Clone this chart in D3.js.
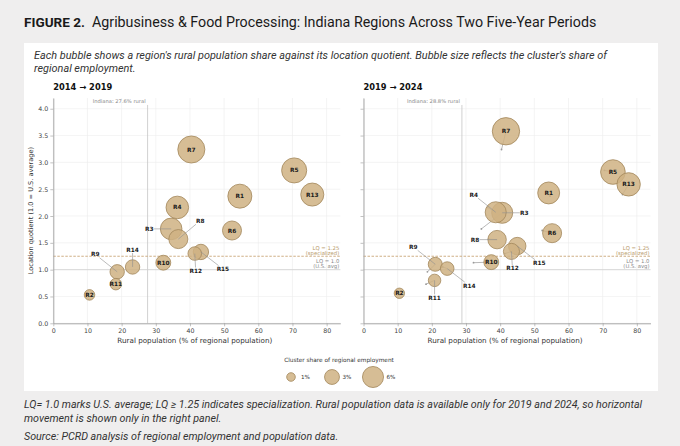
<!DOCTYPE html>
<html>
<head>
<meta charset="UTF-8">
<title>Figure 2</title>
<style>
  body { margin: 0; background: #efeeee; }
  svg { display: block; }
</style>
</head>
<body>
<script src="https://d3js.org/d3.v7.min.js"></script>
<script>
// regions R1..R15
const regions = ["R1","R2","R3","R4","R5","R6","R7","R8","R9","R10","R11","R12","R13","R14","R15"]

// 2014 -> 2019 panel (position at end of period)
const rural2019 = [54.6, 10.6, 34.5, 36.3, 70.5, 52.3, 40.4, 36.6, 18.7, 32.2, 18.3, 41.4, 75.8, 23.2, 43.2]
const lq2019    = [2.37, 0.53, 1.76, 2.16, 2.85, 1.73, 3.24, 1.57, 0.96, 1.13, 0.73, 1.30, 2.40, 1.05, 1.33]
const share2019 = [7.8, 1.5, 6.3, 6.9, 8.5, 4.9, 9.9, 4.9, 2.8, 3.0, 1.8, 2.5, 7.2, 2.8, 3.2]

// 2019 -> 2024 panel
const rural2024 = [54.2, 10.5, 40.6, 38.7, 73.0, 55.2, 41.7, 39.1, 21.0, 37.4, 20.8, 43.3, 77.6, 24.5, 45.0]
const lq2024    = [2.43, 0.56, 2.06, 2.07, 2.82, 1.68, 3.58, 1.56, 1.10, 1.14, 0.80, 1.34, 2.59, 1.02, 1.44]
const share2024 = [6.5, 1.45, 6.0, 6.0, 8.2, 4.9, 10.1, 4.6, 2.65, 3.0, 2.1, 3.5, 7.4, 2.5, 4.1]

const indianaRural = [27.6, 28.8]
const xTicks = [0, 10, 20, 30, 40, 50, 60, 70, 80]
const yTicks = [0, 0.5, 1.0, 1.5, 2.0, 2.5, 3.0, 3.5, 4.0]
const legendShares = [1, 3, 6]

// label placement for crowded bubbles (px offsets), everything else sits inside
const leftLabels  = {R3: [-22, 0], R8: [22, -18.5], R12: [1, 17.5], R15: [22, 17], R14: [0, -17.5], R9: [-22, -17.5]}
const rightLabels = {R4: [-22, -17.5], R3: [22, 0], R8: [-22, 0], R15: [22, 17], R12: [1, 17], R9: [-22, -17.5], R14: [22, 17], R11: [0, 17.5]}

var W = 680, H = 446
var tan = "#b89a6a"
var condensed = "'Liberation Sans Narrow', 'Roboto', 'Open Sans', sans-serif"
var mpl = "'DejaVu Sans', sans-serif"

var svg = d3.select("body").append("svg")
    .attr("width", W)
    .attr("height", H)

svg.append("rect").attr("width", W).attr("height", H).attr("fill", "#efeeee")
svg.append("rect").attr("x", 24).attr("y", 43).attr("width", 634).attr("height", 348).attr("fill", "#fff")

// scale the font of a block of lines so the first one ends at the wanted width
function fitLines(sels, firstWidth) {
    var w0 = sels[0].node().getComputedTextLength()
    var k = firstWidth / w0
    sels.forEach(function(s) {
        s.attr("font-size", +s.attr("font-size") * k)
    })
}

// title
var t1 = svg.append("text").attr("x", 24).attr("y", 27)
    .attr("font-family", condensed).attr("font-weight", "bold").attr("font-size", 16)
    .attr("fill", "#1a1a1a").text("FIGURE 2.")
fitLines([t1], 61)
var t2 = svg.append("text").attr("x", 92).attr("y", 27)
    .attr("font-family", condensed).attr("font-size", 16).attr("fill", "#1a1a1a")
    .text("Agribusiness & Food Processing: Indiana Regions Across Two Five-Year Periods")
fitLines([t2], 505)

// subtitle
var sub = [
    "Each bubble shows a region's rural population share against its location quotient. Bubble size reflects the cluster's share of",
    "regional employment."
].map(function(s, i) {
    return svg.append("text").attr("x", 34).attr("y", 59 + i * 13)
        .attr("font-family", condensed).attr("font-style", "italic").attr("font-size", 11)
        .attr("fill", "#333").text(s)
})
fitLines(sub, 574)

// footnotes
var foot = [
    "LQ= 1.0 marks U.S. average; LQ \u2265 1.25 indicates specialization. Rural population data is available only for 2019 and 2024, so horizontal",
    "movement is shown only in the right panel."
].map(function(s, i) {
    return svg.append("text").attr("x", 24).attr("y", 408 + i * 13.5)
        .attr("font-family", condensed).attr("font-style", "italic").attr("font-size", 11.5)
        .attr("fill", "#333").text(s)
})
foot.push(svg.append("text").attr("x", 24).attr("y", 440)
    .attr("font-family", condensed).attr("font-style", "italic").attr("font-size", 11.5)
    .attr("fill", "#333").text("Source: PCRD analysis of regional employment and population data."))
fitLines(foot, 619)

var r = d3.scaleSqrt().domain([0, 10]).range([0, 4.3 * Math.sqrt(10)])

function panel(opt) {
    var x = d3.scaleLinear().domain([0, 84]).range([opt.left, opt.left + 287])
    var y = d3.scaleLinear().domain([0, 4.2]).range([323.3, 98])
    var g = svg.append("g")

    g.append("text").attr("x", opt.left).attr("y", 90)
        .attr("font-family", mpl).attr("font-weight", "bold").attr("font-size", 8.3)
        .attr("fill", "#111").text(opt.title)

    // grid
    g.selectAll(".gx").data(xTicks).enter().append("line")
        .attr("x1", function(d) { return x(d) }).attr("x2", function(d) { return x(d) })
        .attr("y1", y(4.2)).attr("y2", y(0))
        .attr("stroke", "#ececec").attr("stroke-width", 0.6)
    g.selectAll(".gy").data(yTicks).enter().append("line")
        .attr("x1", x(0)).attr("x2", x(84))
        .attr("y1", function(d) { return y(d) }).attr("y2", function(d) { return y(d) })
        .attr("stroke", "#ececec").attr("stroke-width", 0.6)

    // reference lines
    g.append("line").attr("x1", x(opt.indiana)).attr("x2", x(opt.indiana))
        .attr("y1", y(4.07)).attr("y2", y(0))
        .attr("stroke", "#c4c4c4").attr("stroke-width", 0.8)
    g.append("text").attr("x", x(opt.indiana) - 2).attr("y", 102.5)
        .attr("text-anchor", "end").attr("font-family", mpl).attr("font-size", 5.2)
        .attr("fill", "#888").text("Indiana: " + opt.indiana + "% rural")
    g.append("line").attr("x1", x(0)).attr("x2", x(84)).attr("y1", y(1)).attr("y2", y(1))
        .attr("stroke", "#d2d2d2").attr("stroke-width", 0.8)
    g.append("line").attr("x1", x(0)).attr("x2", x(84)).attr("y1", y(1.25)).attr("y2", y(1.25))
        .attr("stroke", "#c9a678").attr("stroke-width", 0.9).attr("stroke-dasharray", "2.5,1.5")

    var lqText = [["LQ = 1.25", tan, 249.5], ["(specialized)", tan, 254.5], ["LQ = 1.0", "#8a8a8a", 263], ["(U.S. avg)", "#8a8a8a", 268]]
    g.selectAll(".lq").data(lqText).enter().append("text")
        .attr("x", x(84) - 1).attr("y", function(d) { return d[2] })
        .attr("text-anchor", "end").attr("font-family", mpl).attr("font-size", 5.3)
        .attr("fill", function(d) { return d[1] }).text(function(d) { return d[0] })

    // axes
    var ax = g.append("g").attr("transform", "translate(0," + y(0) + ")")
        .call(d3.axisBottom(x).tickValues(xTicks).tickSize(3).tickSizeOuter(0).tickPadding(2))
    var ay = g.append("g").attr("transform", "translate(" + x(0) + ",0)")
        .call(d3.axisLeft(y).tickValues(yTicks).tickSize(3).tickSizeOuter(0).tickPadding(2)
            .tickFormat(opt.yLabels ? d3.format(".1f") : ""))
    ;[ax, ay].forEach(function(a) {
        a.select(".domain").attr("stroke", "#a8a8a8").attr("stroke-width", 1)
        a.selectAll(".tick line").attr("stroke", "#999").attr("stroke-width", 0.6)
        a.selectAll(".tick text").attr("font-family", mpl).attr("font-size", 6.3).attr("fill", "#444")
    })

    g.append("text").attr("x", x(42) - 2).attr("y", 343)
        .attr("text-anchor", "middle").attr("font-family", mpl).attr("font-size", 7.2)
        .attr("fill", "#333").text("Rural population (% of regional population)")
    if (opt.yLabels) {
        g.append("text").attr("transform", "translate(31," + y(2.1) + ") rotate(-90)")
            .attr("text-anchor", "middle").attr("dy", "0.35em").attr("font-family", mpl).attr("font-size", 6.6)
            .attr("fill", "#333").text("Location quotient  (1.0 = U.S. average)")
    }

    var data = regions.map(function(name, i) {
        return {name: name, x: opt.rural[i], y: opt.lq[i], s: opt.share[i],
            px: opt.fromRural ? opt.fromRural[i] : null, py: opt.fromLq ? opt.fromLq[i] : null}
    })

    // movement from the previous period (under the bubbles)
    if (opt.fromRural) {
        g.selectAll(".move").data(data).enter().append("line")
            .attr("x1", function(d) { return x(d.px) }).attr("y1", function(d) { return y(d.py) })
            .attr("x2", function(d) { return x(d.x) }).attr("y2", function(d) { return y(d.y) })
            .attr("stroke", "#9a9a9a").attr("stroke-width", 0.7)
        g.selectAll(".tail").data(data).enter().append("circle")
            .attr("cx", function(d) { return x(d.px) }).attr("cy", function(d) { return y(d.py) })
            .attr("r", 0.9).attr("fill", "#9a9a9a")
    }

    var sorted = data.slice().sort(function(a, b) { return b.s - a.s })
    g.selectAll(".bubble").data(sorted).enter().append("circle")
        .attr("cx", function(d) { return x(d.x) })
        .attr("cy", function(d) { return y(d.y) })
        .attr("r", function(d) { return r(d.s) })
        .attr("fill", "#cfb283").attr("fill-opacity", 0.85)
        .attr("stroke", "#a2865a").attr("stroke-width", 0.8)

    // leaders + labels
    var offs = opt.labels
    var out = data.filter(function(d) { return offs[d.name] })
    g.selectAll(".leader").data(out).enter().append("line")
        .attr("x1", function(d) { return x(d.x) }).attr("y1", function(d) { return y(d.y) })
        .attr("x2", function(d) { var o = offs[d.name]; return x(d.x) + o[0] * 0.8 })
        .attr("y2", function(d) { var o = offs[d.name]; return y(d.y) + o[1] * 0.8 })
        .attr("stroke", "#8f8f8f").attr("stroke-width", 0.6)
    g.selectAll(".lab").data(data).enter().append("text")
        .attr("x", function(d) { var o = offs[d.name] || [0, 0]; return x(d.x) + o[0] })
        .attr("y", function(d) { var o = offs[d.name] || [0, 0]; return y(d.y) + o[1] })
        .attr("dy", "0.35em").attr("text-anchor", "middle")
        .attr("font-family", mpl).attr("font-weight", "bold").attr("font-size", 5.8)
        .attr("fill", "#1a1a1a").text(function(d) { return d.name })
}

panel({left: 53.3, title: "2014 \u2192 2019", rural: rural2019, lq: lq2019, share: share2019,
    indiana: indianaRural[0], labels: leftLabels, yLabels: true})
panel({left: 363.5, title: "2019 \u2192 2024", rural: rural2024, lq: lq2024, share: share2024,
    indiana: indianaRural[1], labels: rightLabels, yLabels: false, fromRural: rural2019, fromLq: lq2019})

// size legend
svg.append("text").attr("x", 339).attr("y", 362).attr("text-anchor", "middle")
    .attr("font-family", mpl).attr("font-size", 5.8).attr("fill", "#333")
    .text("Cluster share of regional employment")
var lx = d3.scalePoint().domain(legendShares).range([291, 373])
var leg = svg.selectAll(".leg").data(legendShares).enter().append("g")
    .attr("transform", function(d) { return "translate(" + lx(d) + ",377)" })
leg.append("circle").attr("r", function(d) { return r(d) })
    .attr("fill", "#cfb283").attr("fill-opacity", 0.85)
    .attr("stroke", "#a2865a").attr("stroke-width", 0.8)
leg.append("text").attr("x", function(d) { return Math.max(r(d) + 3, 10) })
    .attr("dy", "0.35em").attr("font-family", mpl).attr("font-size", 5.6).attr("fill", "#333")
    .text(function(d) { return d + "%" })
</script>
</body>
</html>
